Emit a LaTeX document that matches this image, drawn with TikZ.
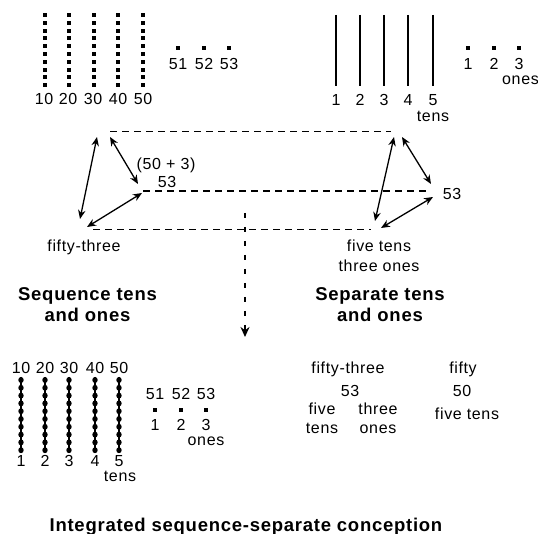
\documentclass[tikz,border=0pt]{standalone}
\usepackage{fontspec}
\setmainfont{Liberation Sans}[LetterSpace=4.0]
\usetikzlibrary{arrows.meta}
\begin{document}
\begin{tikzpicture}[x=1pt,y=-1pt,
  lbl/.style={font=\fontsize{16}{19}\selectfont, inner sep=0pt, anchor=base, yshift=-5.8pt},
  boldlbl/.style={font=\fontsize{18.5}{22}\selectfont\bfseries, inner sep=0pt, anchor=base, yshift=-6.6pt},
  dashline/.style={line width=1.9pt, dash pattern=on 7pt off 5pt},
  dbl/.style={line width=1.3pt, {Stealth[length=9pt,width=7.5pt]}-{Stealth[length=9pt,width=7.5pt]}},
  vdash/.style={line width=2.6pt, dash pattern=on 5pt off 9pt, -{Stealth[length=10pt,width=9pt]}},
  rod/.style={line width=2.2pt},
  beadrod/.style={line width=1.6pt}]
\useasboundingbox (0,0) rectangle (538,534);
\clip (0,0) rectangle (538,534);

% ---------- top left: sequence of dots ----------
\foreach \x in {45,69,94,118,143}{
  \foreach \i in {0,...,9}{\fill (\x-2,15+\i*7.8-2) rectangle ++(4,4);}
}
\foreach \x/\t [count=\k] in {44/10,68/20,93/30,118/40,143/50}
  \node[lbl] (tlnum\k) at (\x,99) {\t};
\foreach \x/\t [count=\k] in {178/51,204/52,229/53}{
  \fill (\x-2,48-2) rectangle ++(4,4);
  \node[lbl] (tlone\k) at (\x,63.5) {\t};
}

% ---------- top right: tens rods ----------
\foreach \x [count=\k] in {336,360,384,408,433}{
  \draw[rod] (\x,15) -- (\x,86);
  \node[lbl] (trnum\k) at (\x,100) {\k};
}
\node[lbl] (trtens) at (433,116) {tens};
\foreach \x [count=\k] in {468,494,519}{
  \fill (\x-2,48-2) rectangle ++(4,4);
  \node[lbl] (trone\k) at (\x,63.5) {\k};
}
\node[lbl, anchor=base west] (trones) at (502,79) {ones};

% ---------- middle: relations ----------
\coordinate (topL) at (110,131.5);
\coordinate (topR) at (391,131.5);
\coordinate (midL) at (143,191);
\coordinate (midR) at (426,191);
\coordinate (botL) at (93,229.5);
\coordinate (botR) at (371,229.5);
\draw[dashline] (topL) -- (topR);
\draw[dashline] (midL) -- (midR);
\draw[dashline] (botL) -- (botR);

\node[lbl] (fiftyplus) at (166,164) {(50 + 3)};
\node[lbl] (leftfiftythree) at (167,182) {53};
\node[lbl] (rightfiftythree) at (452,194) {53};
\node[lbl] (fiftythree) at (84,246) {fifty-three};
\node[lbl] (fivetens) at (379,246) {five tens};
\node[lbl] (threeones) at (379,266) {three ones};

% left arrows
\coordinate (a1s) at (97,137);  \coordinate (a1e) at (80,219);
\coordinate (a2s) at (110,137); \coordinate (a2e) at (138,184);
\coordinate (a3s) at (87,227);  \coordinate (a3e) at (142,193);
\draw[dbl] (a1s) -- (a1e);
\draw[dbl] (a2s) -- (a2e);
\draw[dbl] (a3s) -- (a3e);
% right arrows
\coordinate (a4s) at (394,137); \coordinate (a4e) at (375,221);
\coordinate (a5s) at (402,137); \coordinate (a5e) at (431,184);
\coordinate (a6s) at (381,228); \coordinate (a6e) at (433,197);
\draw[dbl] (a4s) -- (a4e);
\draw[dbl] (a5s) -- (a5e);
\draw[dbl] (a6s) -- (a6e);

% vertical dotted arrow
\coordinate (vtop) at (245,213);
\coordinate (vtip) at (245,337);
\draw[vdash] (vtop) -- (vtip);

% ---------- titles ----------
\node[boldlbl] (seq1) at (87.5,294) {Sequence tens};
\node[boldlbl] (seq2) at (87.5,315) {and ones};
\node[boldlbl] (sep1) at (380,294) {Separate tens};
\node[boldlbl] (sep2) at (380,315) {and ones};

% ---------- bottom left: integrated ----------
\foreach \x/\t [count=\k] in {21/10,45/20,69/30,95/40,119/50}{
  \node[lbl] (blnum\k) at (\x,368) {\t};
  \draw[beadrod] (\x,377) -- (\x,450);
  \foreach \i in {0,...,9}{\fill (\x,380+\i*7.8) ellipse (2.7pt and 3pt);}
  \node[lbl] (blidx\k) at (\x,461) {\k};
}
\node[lbl] (bltens) at (120,476) {tens};
\foreach \x/\t [count=\k] in {155/51,181/52,206/53}{
  \node[lbl] (blseq\k) at (\x,394) {\t};
  \fill (\x-2,410-2) rectangle ++(4,4);
  \node[lbl] (blone\k) at (\x,425) {\k};
}
\node[lbl] (blones) at (206,440) {ones};

% ---------- bottom right ----------
\node[lbl] (brfiftythree) at (348,368) {fifty-three};
\node[lbl] (brfifty) at (463,368) {fifty};
\node[lbl] (br53) at (350,391) {53};
\node[lbl] (br50) at (462,391) {50};
\node[lbl] (brfive) at (322,409) {five};
\node[lbl] (brtens) at (322,428) {tens};
\node[lbl] (brthree) at (378,409) {three};
\node[lbl] (brones) at (378,428) {ones};
\node[lbl] (brfivetens) at (467,414) {five tens};

\node[boldlbl] (integrated) at (246,525) {Integrated sequence-separate conception};
\end{tikzpicture}
\end{document}
